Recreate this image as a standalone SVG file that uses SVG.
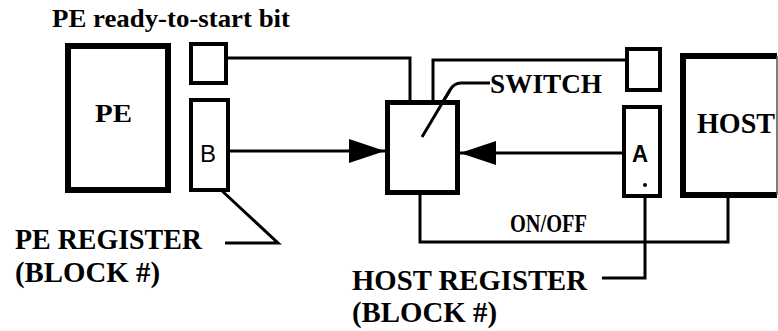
<svg xmlns="http://www.w3.org/2000/svg" width="778" height="331" viewBox="0 0 778 331">
<style>
.bg{fill:#fff}
.box{fill:#fff;stroke:#000;stroke-linejoin:miter}
.thick{stroke-width:6}
.mid{stroke-width:5}
.thin{stroke-width:4}
.wire{fill:none;stroke:#000;stroke-width:3;stroke-linejoin:miter}
.t{font-family:"Liberation Serif","Times New Roman",serif;fill:#000;font-weight:bold}
.s{font-family:"Liberation Sans",Arial,sans-serif;fill:#000}
</style>
<defs>
<marker id="arr" viewBox="0 0 36 24" refX="36" refY="12" markerWidth="36" markerHeight="24" markerUnits="userSpaceOnUse" orient="auto">
<path d="M0,0 L36,12 L0,24 Z" fill="#000"/>
</marker>
</defs>
<rect class="bg" x="0" y="0" width="778" height="331"/>
<text class="t" x="52" y="27" font-size="25" textLength="238" lengthAdjust="spacingAndGlyphs">PE ready-to-start bit</text>
<g id="connectors">
<path class="wire" d="M228,58 L410,58 L410,101"/>
<path class="wire" d="M433,101 L433,60 L626,60"/>
<line class="wire" x1="230" y1="151" x2="385" y2="151" marker-end="url(#arr)"/>
<line class="wire" x1="622" y1="153" x2="460" y2="153" marker-end="url(#arr)"/>
<path class="wire" d="M420,194 L420,242 L728,242 L728,197"/>
<path class="wire" d="M645,186 L645,278 L602,278"/>
<path class="wire" d="M205,175 L278,243 L225,243"/>
<path class="wire" d="M422,137 L450,90 Q454,83 461,83 L490,83"/>
</g>
<g id="pe">
<rect class="box thick" x="68" y="46" width="100" height="144"/>
<text class="t" x="95" y="122" font-size="26" textLength="37" lengthAdjust="spacingAndGlyphs">PE</text>
</g>
<g id="pe-bit">
<rect class="box thin" x="191" y="44" width="35" height="39"/>
</g>
<g id="pe-register">
<rect class="box thin" x="191" y="100" width="37" height="90"/>
<text class="s" x="200" y="162" font-size="24">B</text>
</g>
<g id="switch">
<rect class="box mid" x="387.5" y="102.5" width="70" height="90"/>
<path class="wire" d="M422,137 L450,90"/>
<text class="t" x="490" y="93" font-size="27" textLength="112" lengthAdjust="spacingAndGlyphs">SWITCH</text>
</g>
<g id="host-bit">
<rect class="box thin" x="627" y="49" width="33" height="41"/>
</g>
<g id="host-register">
<rect class="box thin" x="624" y="107" width="36" height="89"/>
<text class="s" x="632" y="162" font-size="23" font-weight="bold" textLength="16" lengthAdjust="spacingAndGlyphs">A</text>
<circle cx="645" cy="185" r="2" fill="#000"/>
</g>
<g id="host">
<path d="M777,56 L683,56 L683,195 L777,195" fill="none" stroke="#000" stroke-width="6"/>
<line x1="777" y1="56" x2="777" y2="195" stroke="#555" stroke-width="1.5"/>
<text class="t" x="697" y="133" font-size="29" textLength="78" lengthAdjust="spacingAndGlyphs">HOST</text>
</g>
<g id="labels">
<text class="t" x="510" y="232" font-size="25" textLength="77" lengthAdjust="spacingAndGlyphs">ON/OFF</text>
<text class="t" x="15" y="249" font-size="29" textLength="187" lengthAdjust="spacingAndGlyphs">PE REGISTER</text>
<text class="t" x="15" y="282" font-size="29" textLength="145" lengthAdjust="spacingAndGlyphs">(BLOCK #)</text>
<text class="t" x="352" y="290" font-size="29" textLength="235" lengthAdjust="spacingAndGlyphs">HOST REGISTER</text>
<text class="t" x="352" y="322" font-size="29" textLength="145" lengthAdjust="spacingAndGlyphs">(BLOCK #)</text>
</g>
</svg>
